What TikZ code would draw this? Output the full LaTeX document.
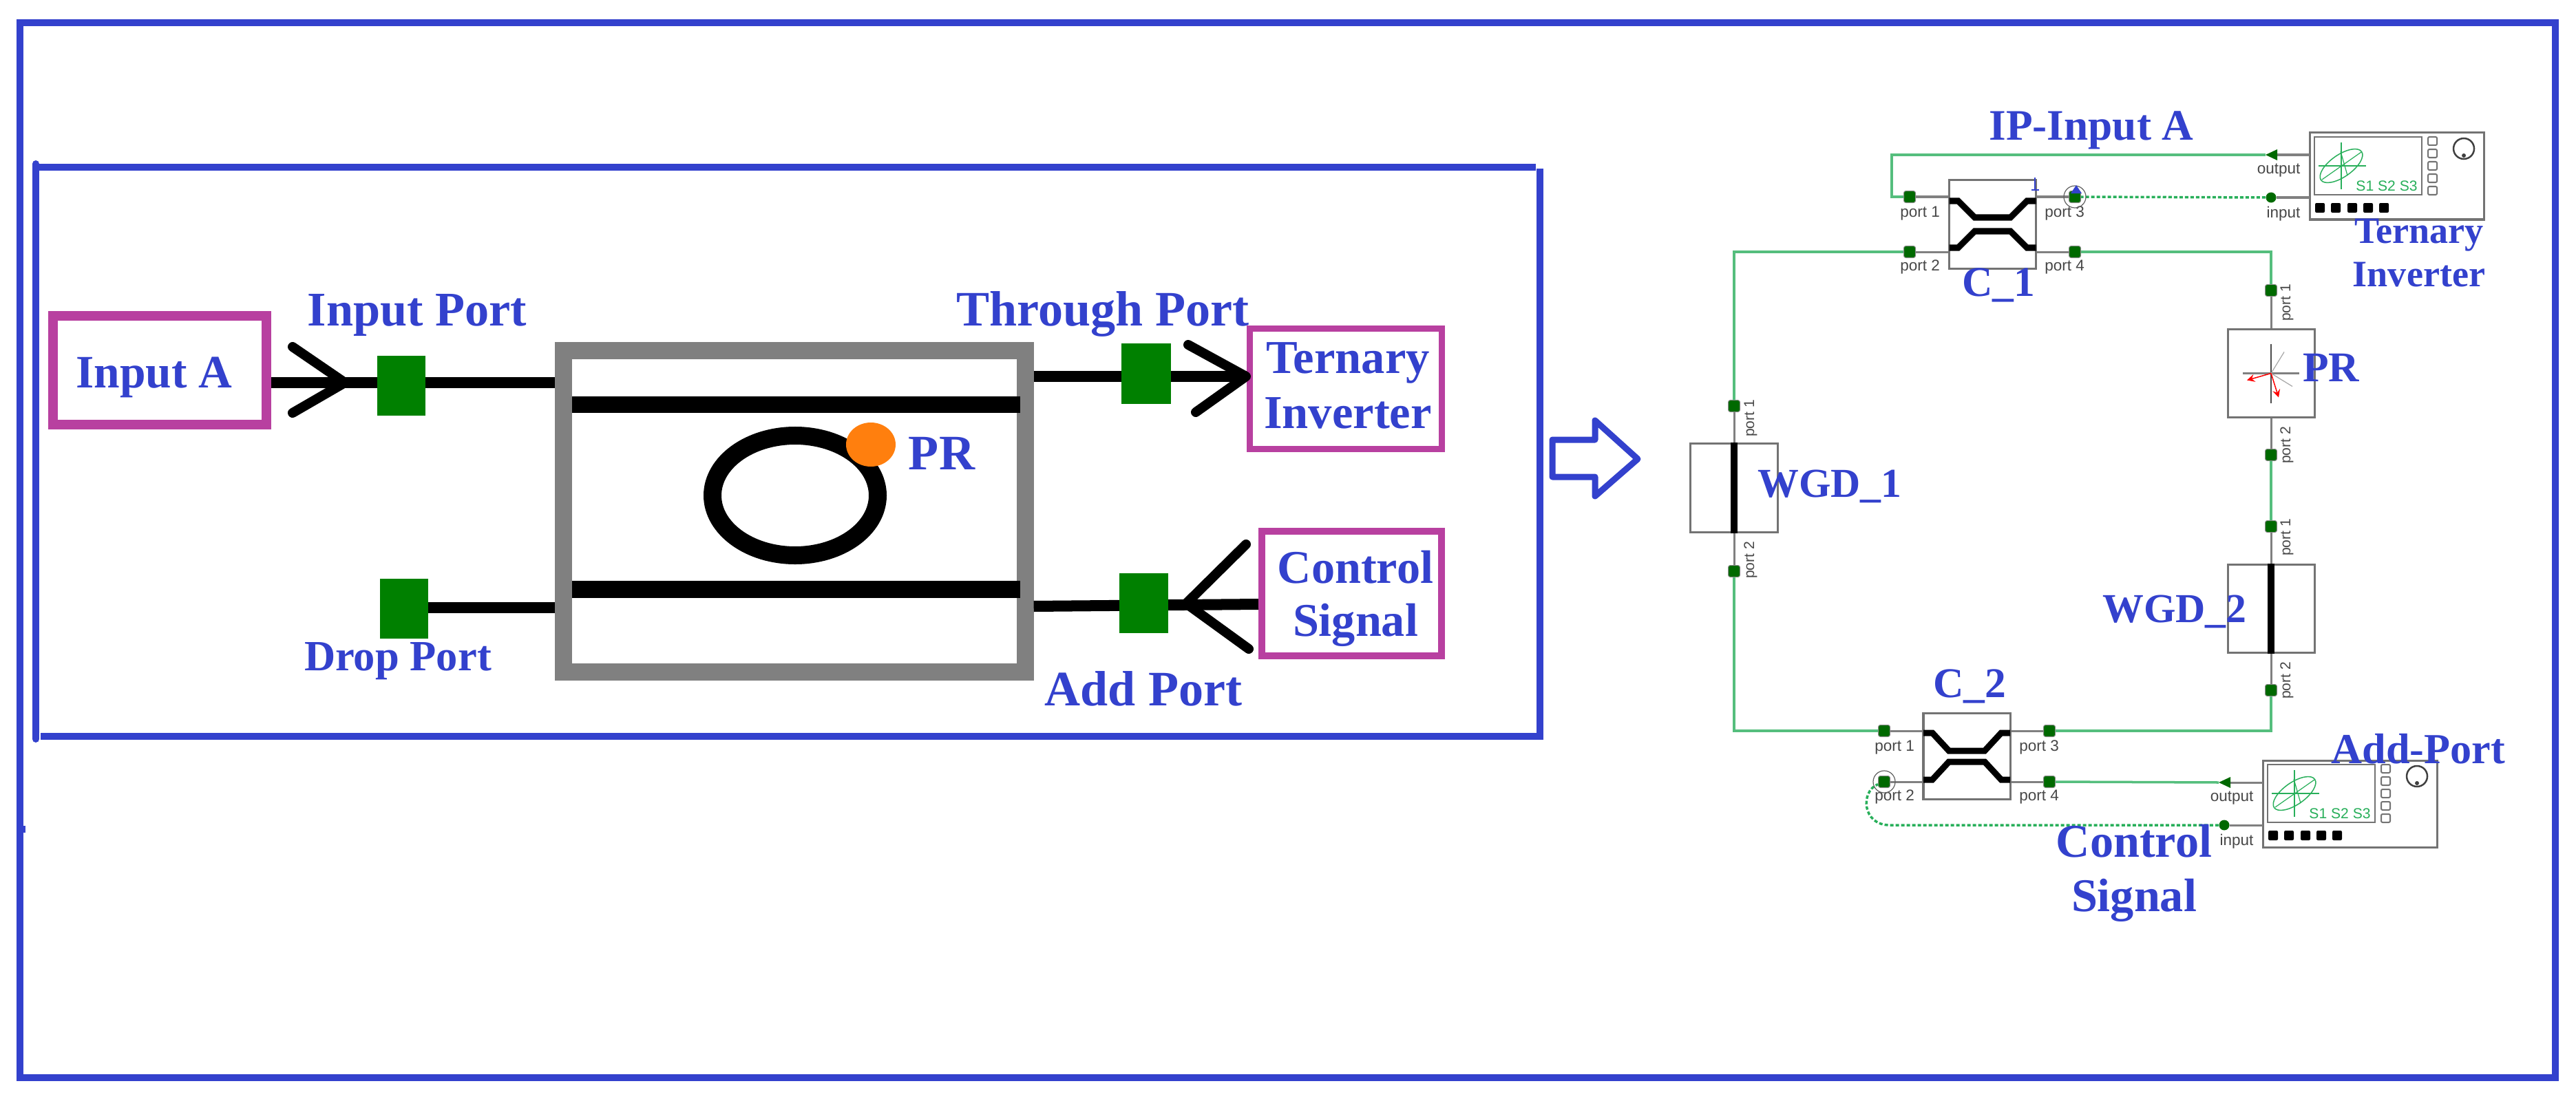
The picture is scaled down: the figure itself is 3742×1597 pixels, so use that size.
\documentclass[tikz,border=0pt]{standalone}
\usepackage{fontspec}
\setmainfont{Liberation Serif}
\setsansfont{Liberation Sans}
\definecolor{frameblue}{RGB}{51,65,205}
\definecolor{sigpink}{RGB}{184,64,160}
\definecolor{padgreen}{RGB}{0,128,0}
\definecolor{wiregreen}{RGB}{85,190,125}
\definecolor{termgreen}{RGB}{0,105,0}
\definecolor{scopegreen}{RGB}{40,175,90}
\definecolor{ringdot}{RGB}{255,127,14}
\tikzset{
  frame/.style={draw=frameblue,line width=.1cm,inner sep=0},
  frameline/.style={draw=frameblue,line width=.1cm},
  sigbox/.style={draw=sigpink,inner sep=0},
  lab/.style={text=frameblue,inner sep=0,align=center},
  guide/.style={line width=.16cm},
  chev/.style={line width=.14cm,line cap=round,line join=round},
  pad/.style={fill=padgreen,inner sep=0,minimum width=.7cm,minimum height=.87cm},
  dev/.style={draw=black!55,line width=.03cm,fill=white,inner sep=0,minimum width=1.26cm},
  stub/.style={draw=black!50,line width=.03cm},
  wire/.style={draw=wiregreen,line width=.035cm},
  dots/.style={draw=scopegreen,line width=.035cm,dash pattern=on .05cm off .03cm},
  term/.style={fill=termgreen,draw=black!45,line width=.01cm,rounded corners=.03cm,inner sep=0,minimum width=.17cm,minimum height=.17cm},
  plab/.style={text=black!72,inner sep=0,font=\sffamily\fontsize{6.4}{7}\selectfont},
}
\begin{document}
\begin{tikzpicture}[x=.01cm,y=-.01cm]
\useasboundingbox (0,0) rectangle (3742,1597);

% frames
\node[frame,minimum width=36.81cm,minimum height=15.33cm] (outer) at (1870.5,799.5) {};
\fill[frameblue] (24,1200) rectangle (37,1210);
\coordinate (fa) at (52,238);
\coordinate (fb) at (52,1074);
\coordinate (fc) at (54,243);
\coordinate (fd) at (2231,243);
\coordinate (fe) at (2237,245);
\coordinate (ff) at (2237,1070);
\coordinate (fg) at (59,1070);
\coordinate (fh) at (2242,1070);
\draw[frameline,line cap=round] (fa) -- (fb);
\draw[frameline] (fc) -- (fd);
\draw[frameline] (fe) -- (ff);
\draw[frameline] (fg) -- (fh);

% left panel
\node[draw=black!50,line width=.25cm,inner sep=0,minimum width=6.7cm,minimum height=4.66cm] (ringbox) at (1154,743) {};
\node[sigbox,line width=.14cm,minimum width=3.1cm,minimum height=1.58cm] (inA) at (232,538) {};
\node[sigbox,line width=.09cm,minimum width=2.78cm,minimum height=1.74cm] (tern) at (1955,565) {};
\node[sigbox,line width=.1cm,minimum width=2.61cm,minimum height=1.81cm] (ctrl) at (1963.5,862.5) {};

\draw[line width=.24cm] (831,588) -- (1482,588);
\draw[line width=.25cm] (831,856) -- (1482,856);
\draw[line width=.26cm] (1155,720) ellipse [x radius=120,y radius=87];
\fill[ringdot] (1265,646) ellipse [x radius=36,y radius=32];

\coordinate (yA) at (0,556);
\coordinate (yT) at (0,547);
\draw[guide] (inA.east |- yA) -- (ringbox.west |- yA);
\draw[guide] (ringbox.east |- yT) -- (tern.west |- yT);
\draw[guide] (ringbox.west |- 0,883) -- (622,883);
\draw[guide] (ringbox.east |- 0,881) -- (ctrl.west |- 0,878);

\node[pad] (pA) at (583,560.5) {};
\node[pad] (pD) at (587,884.5) {};
\node[pad,minimum width=.72cm] (pT) at (1665,543) {};
\node[pad,minimum width=.71cm] (pC) at (1661.5,876.5) {};

\draw[chev] (425,504) -- (501,556) -- (425,600);
\draw[chev] (1726,501) -- (1810,547) -- (1737,599);
\draw[chev] (1810,791) -- (1723,877) -- (1814,943);

\node[lab,anchor=base,font=\bfseries\fontsize{19.2}{22}\selectfont] (tInA) at (224,563) {Input A};
\node[lab,anchor=base,font=\bfseries\fontsize{20}{23}\selectfont] (tInP) at (606,473) {Input Port};
\node[lab,anchor=base,font=\bfseries\fontsize{17.8}{20}\selectfont] (tDrop) at (578,974) {Drop Port};
\node[lab,anchor=base,font=\bfseries\fontsize{20.5}{23}\selectfont] (tThr) at (1602,473) {Through Port};
\node[lab,anchor=base,font=\bfseries\fontsize{20.5}{23}\selectfont] (tAdd) at (1661,1025) {Add Port};
\node[lab,anchor=base,font=\bfseries\fontsize{20.5}{23}\selectfont] (tPR) at (1368,682) {PR};
\node[lab,font=\bfseries\fontsize{19.5}{22.7}\selectfont] (tTern) at (1958,560) {Ternary\\Inverter};
\node[lab,font=\bfseries\fontsize{19.4}{21.8}\selectfont] (tCtrl) at (1969,870) {Control\\Signal};

% block arrow
\draw[draw=frameblue,line width=.09cm,line join=round] (2255,639) -- (2317,639) -- (2317,611) -- (2379,667) -- (2317,721) -- (2317,693) -- (2255,693) -- cycle;

% right panel, devices
\node[dev,minimum height=1.28cm] (wgA) at (2519,709) {};
\node[dev,minimum height=1.27cm] (wgB) at (3299,884.5) {};
\node[dev,minimum height=1.27cm] (pol) at (3299,542.5) {};
\draw[line width=.1cm] (wgA.north) -- (wgA.south);
\draw[line width=.1cm] (wgB.north) -- (wgB.south);

% ports on the vertical devices
\foreach \nm/\px/\py in {wgAa/2519/590, wgAb/2519/830, wgBa/3299/765, wgBb/3299/1003, pola/3299/422, polb/3299/661}
  \node[term] (\nm) at (\px,\py) {};
\draw[stub] (wgAa) -- (wgA.north);
\draw[stub] (wgAb) -- (wgA.south);
\draw[stub] (wgBa) -- (wgB.north);
\draw[stub] (wgBb) -- (wgB.south);
\draw[stub] (pola) -- (pol.north);
\draw[stub] (polb) -- (pol.south);
\foreach \nm/\px/\py/\ptext in {pl1/2543/608/port 1, pl2/2543/814/port 2, pl3/3322/781/port 1, pl4/3322/989/port 2, pl5/3322/440/port 1, pl6/3322/647/port 2}
  \node[plab,rotate=90,font=\sffamily\fontsize{6}{7}\selectfont] (\nm) at (\px,\py) {\ptext};

% couplers
\foreach \cc/\cx/\cy/\dy/\hh/\lx/\rx/\ty/\fl in {cA/2894.5/326/40/1.29/2774/3014/24/10, cB/2857/1099/37/1.25/2737/2977/24/8}{
  \node[dev,minimum height=\hh cm] (\cc) at (\cx,\cy) {};
  \node[term] (\cc1) at (\lx,\cy-\dy) {};
  \node[term] (\cc2) at (\lx,\cy+\dy) {};
  \node[term] (\cc3) at (\rx,\cy-\dy) {};
  \node[term] (\cc4) at (\rx,\cy+\dy) {};
  \draw[stub] (\cc1) -- (\cc1 -| \cc.west);
  \draw[stub] (\cc2) -- (\cc2 -| \cc.west);
  \draw[stub] (\cc3) -- (\cc3 -| \cc.east);
  \draw[stub] (\cc4) -- (\cc4 -| \cc.east);
  \begin{scope}[shift={(\cx,\cy)}]
    \draw[line width=.09cm] (-63,-34) -- (-50,-34) -- (-26,-\fl) -- (26,-\fl) -- (50,-34) -- (63,-34);
    \draw[line width=.09cm] (-63,34) -- (-50,34) -- (-26,\fl) -- (26,\fl) -- (50,34) -- (63,34);
  \end{scope}
  \node[plab] (\cc t1) at (\lx+15,\cy-\dy+\ty) {port 1};
  \node[plab] (\cc t2) at (\lx+15,\cy+\dy+\ty-2) {port 2};
  \node[plab] (\cc t3) at (\rx-15,\cy-\dy+\ty) {port 3};
  \node[plab] (\cc t4) at (\rx-15,\cy+\dy+\ty-2) {port 4};
}

% analysers
\foreach \sa/\ax/\ay in {saA/3355/193, saB/3287/1105}{
  \begin{scope}[shift={(\ax,\ay)}]
    \draw[draw=black!55,line width=.03cm,fill=white] (0,0) rectangle (253,126);
    \draw[draw=black!55,line width=.025cm] (7,6) rectangle (163,90);
    \foreach \by in {12,30,48,66,84}
      \draw[draw=black!55,line width=.02cm,rounded corners=.02cm] (172,\by-6) rectangle (185,\by+6);
    \foreach \bx in {15,38,62,85,108}
      \fill[black,rounded corners=.02cm] (\bx-7,102) rectangle (\bx+7,116);
    \draw[draw=black!75,line width=.025cm] (224,23) circle [radius=15];
    \fill[black!75] (224,33) circle [radius=3];
    % trace on the screen
    \draw[draw=scopegreen,line width=.015cm] (13,48) -- (82,48);
    \draw[draw=scopegreen,line width=.015cm] (46,14) -- (46,82);
    \draw[draw=scopegreen,line width=.012cm] (18,68) -- (75,28);
    \draw[draw=scopegreen,line width=.012cm] (45,27) -- (55,62);
    \begin{scope}[shift={(46,48)},rotate=35]
      \draw[draw=scopegreen,line width=.015cm] (0,0) ellipse [x radius=36,y radius=16];
    \end{scope}
    \node[inner sep=0,text=scopegreen,font=\sffamily\fontsize{6}{7}\selectfont] (\sa s) at (112,77) {S1 S2 S3};
    \coordinate (\sa out) at (-64,32);
    \node[circle,fill=termgreen,inner sep=0,minimum size=.15cm] (\sa in) at (-56,94) {};
    \draw[stub] (\sa in) -- (0,94);
    \draw[stub] (-48,32) -- (0,32);
    \fill[termgreen] (\sa out) -- (-47,24) -- (-47,40) -- cycle;
    \node[plab] (\sa o) at (-45,55) {output};
    \node[plab] (\sa i) at (-38,118) {input};
  \end{scope}
}

% wires
\coordinate (bendA) at (2748,286);
\draw[wire] (saAout) -| (bendA) -- (cA1);
\draw[wire] (cA2) -| (wgAa);
\draw[wire] (cA4) -| (pola);
\draw[wire] (polb) -- (wgBa);
\draw[wire] (wgAb) |- (cB1);
\draw[wire] (cB3) -| (wgBb);
\draw[wire] (saBout) -- (cB4);
\draw[dots] (saAin) -- (cA3);
\coordinate (bendB) at (2745,1199);
\draw[dots] (saBin) -- (bendB) .. controls (2705,1199) and (2702,1150) .. (cB2);
\draw[draw=black!62,line width=.012cm] (cA3) circle [radius=16];
\draw[draw=black!62,line width=.012cm] (cB2) circle [radius=16];
\fill[frameblue] (3016,269) -- (3024,281) -- (3008,281) -- cycle;
\draw[draw=frameblue,line width=.012cm] (2956,258) -- (2956,276);
\draw[draw=frameblue,line width=.012cm] (2951,276) -- (2962,276);

% polarisation rotator symbol
\begin{scope}[shift={(pol.center)}]
  \draw[draw=black!70,line width=.012cm] (0,-43) -- (0,43);
  \draw[draw=black!50,line width=.03cm] (-41,0) -- (41,0);
  \draw[draw=black!35,line width=.012cm] (0,0) -- (19,-31);
  \draw[draw=black!35,line width=.012cm] (0,0) -- (31,19);
  \draw[-stealth,draw=red,line width=.015cm] (0,0) -- (-35,10);
  \draw[-stealth,draw=red,line width=.015cm] (0,0) -- (11,35);
\end{scope}

% right panel, labels
\node[lab,anchor=base,font=\bfseries\fontsize{18}{20}\selectfont] (tIP) at (3038,204) {IP-Input A};
\node[lab,font=\bfseries\fontsize{15.4}{17.9}\selectfont] (tTernR) at (3514,368) {Ternary\\Inverter};
\node[lab,anchor=base,font=\bfseries\fontsize{17.5}{20}\selectfont] (tC1) at (2903,430) {C\_1};
\node[lab,anchor=base,font=\bfseries\fontsize{17.5}{20}\selectfont] (tPRR) at (3386,554) {PR};
\node[lab,anchor=base,font=\bfseries\fontsize{17}{20}\selectfont] (tW1) at (2658,722) {WGD\_1};
\node[lab,anchor=base,font=\bfseries\fontsize{17}{20}\selectfont] (tW2) at (3159,904) {WGD\_2};
\node[lab,anchor=base,font=\bfseries\fontsize{17.5}{20}\selectfont] (tC2) at (2861,1013) {C\_2};
\node[lab,anchor=base,font=\bfseries\fontsize{17.7}{20}\selectfont] (tAddR) at (3513,1109) {Add-Port};
\node[lab,font=\bfseries\fontsize{19.4}{22.4}\selectfont] (tCtrlR) at (3100,1269) {Control\\Signal};
\end{tikzpicture}
\end{document}
